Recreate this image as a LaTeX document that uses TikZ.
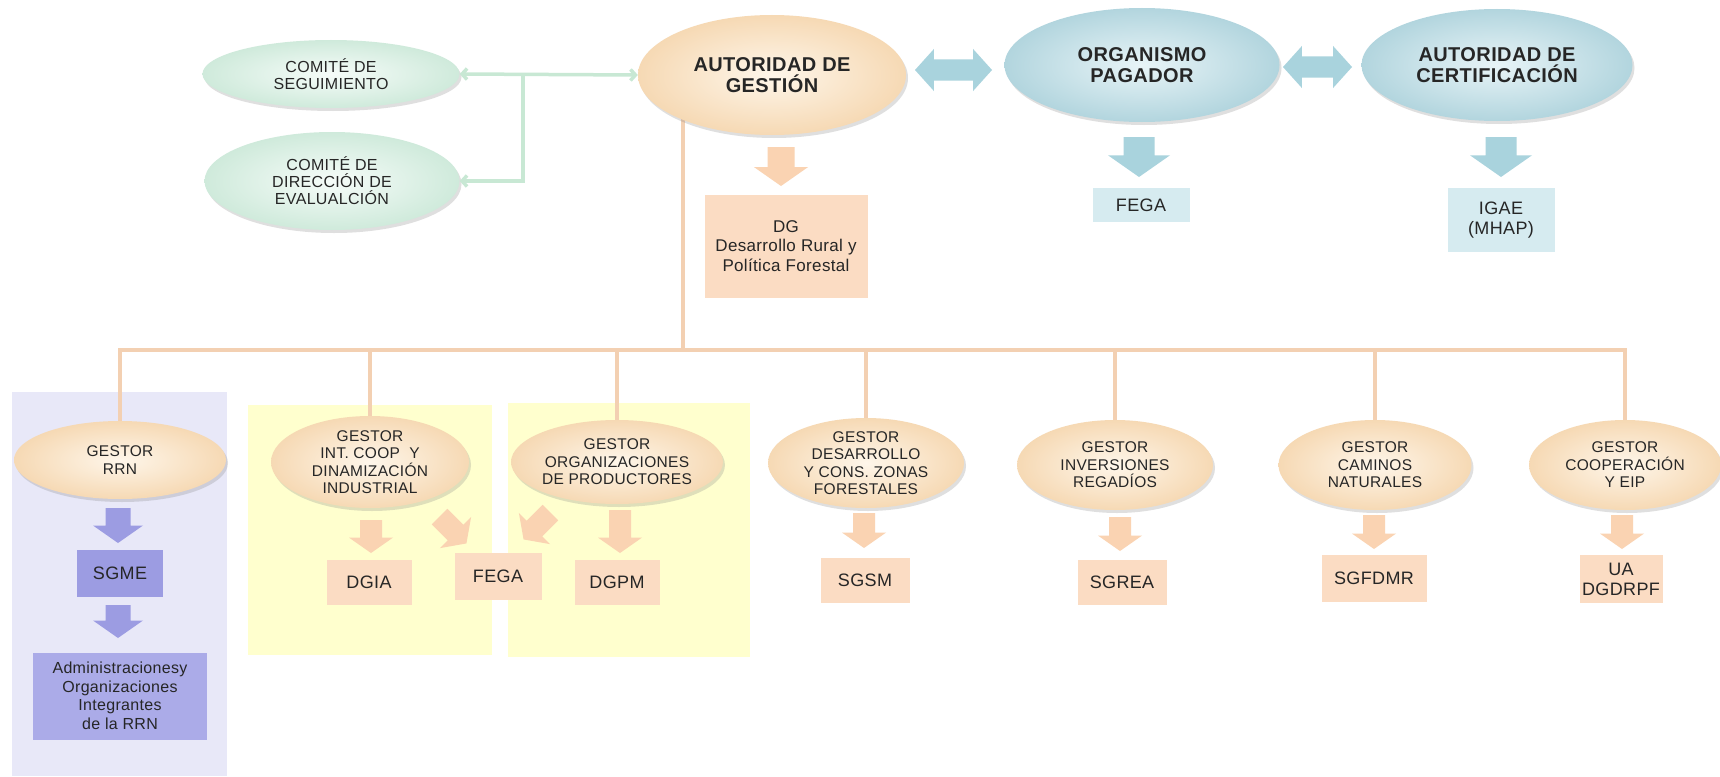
\documentclass[tikz,border=0pt]{standalone}
\usepackage{fontspec}
\setmainfont{Liberation Sans}[LetterSpace=2.0]
\usetikzlibrary{shapes.geometric,shadows,arrows.meta,calc}
\definecolor{pIn}{HTML}{FEF6EA}
\definecolor{pOut}{HTML}{F6D9B4}
\definecolor{bIn}{HTML}{E8F4F7}
\definecolor{bOut}{HTML}{B2D5DE}
\definecolor{gIn}{HTML}{F6FCF9}
\definecolor{gOut}{HTML}{CFEADB}
\definecolor{pBox}{HTML}{FBDCC3}
\definecolor{pArr}{HTML}{FAD3B2}
\definecolor{bBox}{HTML}{D6EBF0}
\definecolor{bArr}{HTML}{A9D3DD}
\definecolor{lBg}{HTML}{E8E8F8}
\definecolor{lBox}{HTML}{9C9CE2}
\definecolor{lBoxB}{HTML}{ABABE8}
\definecolor{yBg}{HTML}{FFFFCE}
\definecolor{lineP}{HTML}{F3D0B2}
\definecolor{gLine}{HTML}{C8E8D4}
\definecolor{txt}{HTML}{262626}
\pgfdeclarelayer{back}
\pgfdeclarelayer{mid}
\pgfsetlayers{back,mid,main}
% down block arrow: x, ytop, ybottom, half head width, colour
\newcommand{\darr}[5]{%
  \fill[#5] ({#1-0.5*#4},#2) -- ({#1+0.5*#4},#2) -- ({#1+0.5*#4},{#3-0.7*#4})
    -- ({#1+#4},{#3-0.7*#4}) -- (#1,#3) -- ({#1-#4},{#3-0.7*#4})
    -- ({#1-0.5*#4},{#3-0.7*#4}) -- cycle;}
% horizontal double block arrow: xleft, xright, ycentre, half head height, colour
\newcommand{\harr}[5]{%
  \fill[#5] (#1,#3) -- ({#1+0.9*#4},{#3-#4}) -- ({#1+0.9*#4},{#3-0.5*#4})
    -- ({#2-0.9*#4},{#3-0.5*#4}) -- ({#2-0.9*#4},{#3-#4}) -- (#2,#3)
    -- ({#2-0.9*#4},{#3+#4}) -- ({#2-0.9*#4},{#3+0.5*#4})
    -- ({#1+0.9*#4},{#3+0.5*#4}) -- ({#1+0.9*#4},{#3+#4}) -- cycle;}
\begin{document}
\begin{tikzpicture}[x=1pt,y=-1pt,
  base/.style={text=txt,align=center,inner sep=0pt},
  ell/.style={base,ellipse,shade,drop shadow={opacity=0.25,shadow xshift=2pt,shadow yshift=-3pt}},
  pell/.style={ell,inner color=pIn,outer color=pOut,font=\fontsize{15.5}{17.5}\selectfont},
  bell/.style={ell,inner color=bIn,outer color=bOut,font=\bfseries\fontsize{20}{21.5}\selectfont},
  gell/.style={ell,inner color=gIn,outer color=gOut,font=\fontsize{16}{17}\selectfont},
  agell/.style={ell,inner color=pIn,outer color=pOut,font=\bfseries\fontsize{20}{21.5}\selectfont},
  pbox/.style={base,rectangle,fill=pBox,font=\fontsize{18}{20}\selectfont},
  bbox/.style={base,rectangle,fill=bBox,font=\fontsize{18}{20}\selectfont},
  lbox/.style={base,rectangle,fill=lBox,font=\fontsize{18}{20}\selectfont},
  conn/.style={draw=lineP,line width=3.5pt},
  gconn/.style={draw=gLine,line width=3.5pt}
]
\useasboundingbox (0,0) rectangle (1720,776);
\begin{pgfonlayer}{back}
  \fill[white] (0,0) rectangle (1720,776);
  \fill[lBg] (12,392) rectangle (227,776);
  \fill[yBg] (248,405) rectangle (492,655);
  \fill[yBg] (508,403) rectangle (750,657);
\end{pgfonlayer}

% top row
\node[gell,minimum width=257pt,minimum height=68pt] (comseg) at (331,74) {COMITÉ DE\\SEGUIMIENTO};
\node[gell,minimum width=255pt,minimum height=98pt] (comdir) at (332,181) {COMITÉ DE\\DIRECCIÓN DE\\EVALUALCIÓN};
\node[agell,minimum width=268pt,minimum height=120pt] (ag) at (772,75) {AUTORIDAD DE\\GESTIÓN};
\node[bell,minimum width=275pt,minimum height=114pt] (op) at (1142,65) {ORGANISMO\\PAGADOR};
\node[bell,minimum width=271pt,minimum height=112pt] (ac) at (1497,65) {AUTORIDAD DE\\CERTIFICACIÓN};

\node[pbox,minimum width=163pt,minimum height=103pt,font=\fontsize{17}{19.5}\selectfont] (dg) at (786,246) {DG\\Desarrollo Rural y\\Política Forestal};
\node[bbox,minimum width=97pt,minimum height=34pt] (fegatop) at (1141,205) {FEGA};
\node[bbox,minimum width=107pt,minimum height=64pt] (igae) at (1501,220) {IGAE\\(MHAP)};

% gestores
\node[pell,minimum width=212pt,minimum height=78pt] (rrn) at (120,460) {GESTOR\\RRN};
\node[pell,minimum width=198pt,minimum height=92pt] (coop) at (370,462) {GESTOR\\INT.\ COOP\ \ Y\\DINAMIZACIÓN\\INDUSTRIAL};
\node[pell,minimum width=198pt,minimum height=84pt] (orgp) at (617,462) {GESTOR\\ORGANIZACIONES\\DE PRODUCTORES};
\node[pell,minimum width=196pt,minimum height=90pt] (desa) at (866,463) {GESTOR\\DESARROLLO\\Y CONS.\ ZONAS\\FORESTALES};
\node[pell,minimum width=196pt,minimum height=90pt] (inv) at (1115,465) {GESTOR\\INVERSIONES\\REGADÍOS};
\node[pell,minimum width=193pt,minimum height=90pt] (cam) at (1375,465) {GESTOR\\CAMINOS\\NATURALES};
\node[pell,minimum width=192pt,minimum height=90pt] (cope) at (1625,465) {GESTOR\\COOPERACIÓN\\Y EIP};

% boxes below gestores
\node[lbox,minimum width=86pt,minimum height=47pt] (sgme) at (120,573) {SGME};
\node[lbox,fill=lBoxB,minimum width=174pt,minimum height=87pt,font=\fontsize{16}{18.5}\selectfont] (admin) at (120,696) {Administracionesy\\Organizaciones\\Integrantes\\de la RRN};
\node[pbox,minimum width=85pt,minimum height=45pt] (dgia) at (369,582) {DGIA};
\node[pbox,minimum width=87pt,minimum height=47pt] (fegamid) at (498,576) {FEGA};
\node[pbox,minimum width=85pt,minimum height=45pt] (dgpm) at (617,582) {DGPM};
\node[pbox,minimum width=89pt,minimum height=45pt] (sgsm) at (865,580) {SGSM};
\node[pbox,minimum width=89pt,minimum height=45pt] (sgrea) at (1122,582) {SGREA};
\node[pbox,minimum width=105pt,minimum height=47pt] (sgfdmr) at (1374,578) {SGFDMR};
\node[pbox,minimum width=83pt,minimum height=48pt] (ua) at (1621,579) {UA\\DGDRPF};

% connectors
\coordinate (j) at (683,350);
\begin{pgfonlayer}{mid}
  \draw[conn] (ag.center -| j) -- (j);
  \draw[conn,line join=miter] (rrn.north) -- (rrn.north |- j) -- (cope.north |- j) -- (cope.north);
  \foreach \n in {coop,orgp,desa,inv,cam}{\draw[conn] (\n.north |- j) -- (\n.north);}
\end{pgfonlayer}
\draw[gconn,{Straight Barb[length=5pt,width=11pt]}-{Straight Barb[length=5pt,width=11pt]}] (comseg.east) -- (ag.west);
\coordinate (gj) at ($(comseg.east)!0.356!(ag.west)$);
\draw[gconn,-{Straight Barb[length=5pt,width=11pt]}] (gj) |- (comdir.east);

% block arrows
\harr{915}{992}{70}{21}{bArr}
\harr{1283}{1352}{67}{21}{bArr}
\darr{781}{147}{186}{27}{pArr}
\darr{1139}{137}{177}{31}{bArr}
\darr{1501}{137}{177}{31}{bArr}
\darr{118}{508}{543}{25}{lBox}
\darr{118}{605}{638}{25}{lBox}
\darr{371}{520}{553}{22}{pArr}
\darr{620}{510}{553}{22}{pArr}
\darr{864}{513}{548}{22}{pArr}
\darr{1120}{517}{551}{22}{pArr}
\darr{1374}{515}{549}{22}{pArr}
\darr{1622}{515}{549}{22}{pArr}
\begin{scope}[shift={(453,530)},rotate=45]
  \darr{0}{-19}{19}{22}{pArr}
\end{scope}
\begin{scope}[shift={(537,526)},rotate=-45]
  \darr{0}{-19}{19}{22}{pArr}
\end{scope}
\end{tikzpicture}
\end{document}
